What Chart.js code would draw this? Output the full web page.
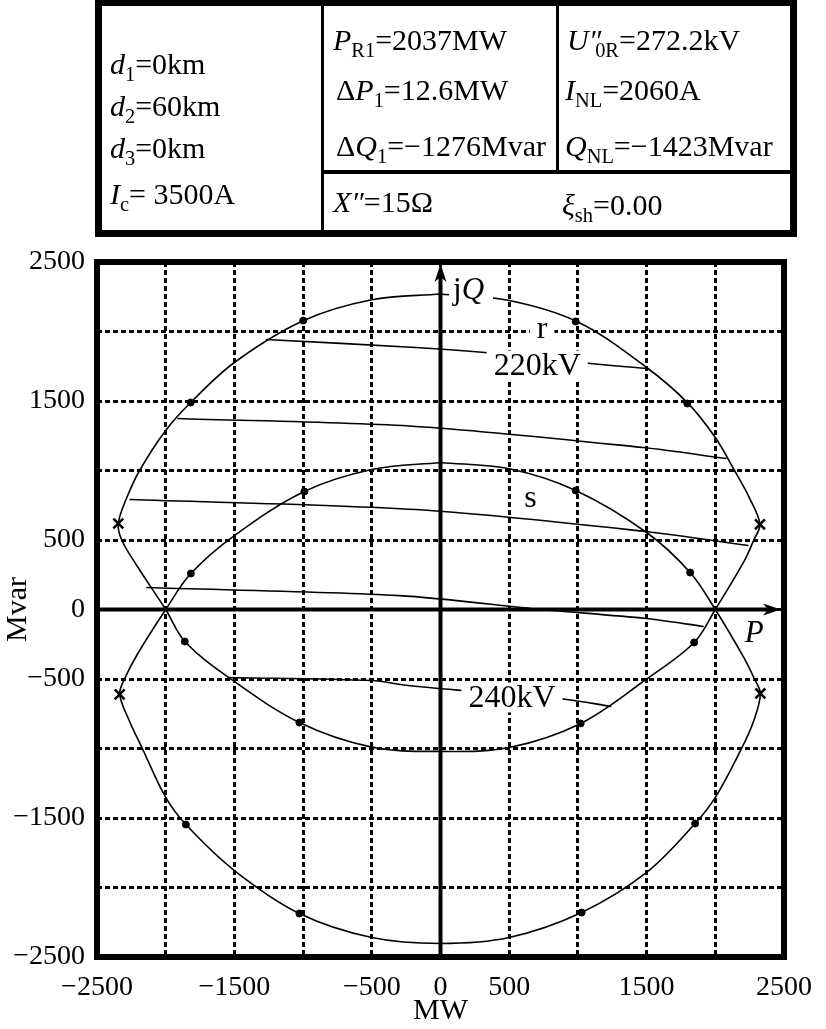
<!DOCTYPE html>
<html>
<head>
<meta charset="UTF-8">
<title>P-Q circle diagram</title>
<script src="https://cdn.jsdelivr.net/npm/chart.js"></script>
<style>
  body { margin: 0; background: #fff; }
  #wrap { position: relative; width: 826px; height: 1029px; overflow: hidden; }
  #chart { position: absolute; left: 0; top: 0; }
  .box { position: absolute; background: #000; }
  .t { position: absolute; font-family: "Liberation Serif", "DejaVu Serif", serif; font-size: 30px; line-height: 34px; white-space: nowrap; color: #000; }
  .t sub { font-size: 0.68em; vertical-align: -0.32em; line-height: 0; font-style: normal; }
</style>
</head>
<body>
<div id="wrap">
  <canvas id="chart" width="826" height="1029"></canvas>

  <!-- table frame -->
  <div class="box" style="left:95px;top:0;width:702px;height:6px"></div>
  <div class="box" style="left:95px;top:230px;width:702px;height:7px"></div>
  <div class="box" style="left:95px;top:0;width:7px;height:237px"></div>
  <div class="box" style="left:790px;top:0;width:7px;height:237px"></div>
  <div class="box" style="left:321px;top:0;width:3px;height:237px"></div>
  <div class="box" style="left:556px;top:0;width:3px;height:173px"></div>
  <div class="box" style="left:321px;top:170px;width:470px;height:4px"></div>

  <div class="t" style="left:110px;top:47px"><i>d</i><sub>1</sub>=0km</div>
  <div class="t" style="left:110px;top:89px"><i>d</i><sub>2</sub>=60km</div>
  <div class="t" style="left:110px;top:131px"><i>d</i><sub>3</sub>=0km</div>
  <div class="t" style="left:110px;top:177px"><i>I</i><sub>c</sub>= 3500A</div>

  <div class="t" style="left:333px;top:23px"><i>P</i><sub>R1</sub>=2037MW</div>
  <div class="t" style="left:336px;top:73px">Δ<i>P</i><sub>1</sub>=12.6MW</div>
  <div class="t" style="left:336px;top:129px">Δ<i>Q</i><sub>1</sub>=−1276Mvar</div>
  <div class="t" style="left:333px;top:185px"><i>X</i><i>″</i>=15Ω</div>

  <div class="t" style="left:567px;top:23px"><i>U</i><i>″</i><sub style="margin-left:-6px">0R</sub>=272.2kV</div>
  <div class="t" style="left:565px;top:73px"><i>I</i><sub>NL</sub>=2060A</div>
  <div class="t" style="left:565px;top:129px"><i>Q</i><sub>NL</sub>=−1423Mvar</div>
  <div class="t" style="left:562px;top:188px"><i>ξ</i><sub>sh</sub>=0.00</div>
</div>

<script>
// tick values that carry a label
const xTickLabels = [-2500, -1500, -500, 0, 500, 1500, 2500];
const yTickLabels = [-2500, -1500, -500, 0, 500, 1500, 2500];

// curve r (closed loop), MW / Mvar
const rP = [0, 500, 1000, 1500, 1800, 2000, 2140, 2250, 2325, 2280, 2213, 2000, 1846, 1500, 1020, 500, 0,
            -500, -1027, -1540, -1861, -2000, -2200, -2320, -2345, -2285, -2190, -2000, -1818, -1500, -1000, -500, 0];
const rQ = [2270, 2223, 2068, 1741, 1485, 1237, 1000, 800, 613, 500, 353, 0, -237, -500, -820, -993, -1021,
            -990, -813, -490, -230, 0, 300, 500, 619, 800, 1000, 1288, 1489, 1777, 2077, 2228, 2270];

// curve s (closed loop)
const sP = [0, 500, 984, 1500, 1817, 2000, 2210, 2285, 2328, 2280, 2191, 2000, 1853, 1500, 1027, 500, 0,
            -500, -1027, -1500, -1853, -2000, -2170, -2265, -2335, -2300, -2205, -2000, -1817, -1500, -991, -500, 0];
const sQ = [1058, 1012, 856, 554, 266, 0, -350, -500, -604, -800, -1000, -1352, -1540, -1892, -2180, -2360, -2403,
            -2360, -2187, -1878, -1547, -1352, -1000, -800, -611, -500, -320, 0, 259, 532, 849, 1007, 1058];

// constant voltage lines
const v220P = [-1271, -180, 323, 1092, 1509];
const v220Q = [1942, 1885, 1849, 1770, 1734];
const v225P = [-1915, -180, 1473, 2083];
const v225Q = [1374, 1317, 1165, 1086];
const v230P = [-2263, -180, 1494, 2241];
const v230Q = [791, 719, 561, 460];
const v235P = [-2142, -300, 733, 1494, 1916];
const v235Q = [158, 100, 0, -65, -122];
const v240P = [-1544, -500, -250, 158, 920, 1243];
const v240Q = [-489, -511, -545, -583, -647, -698];

// marked points
const dotP = [-999, 984, -1818, 1796, -1861, 1846, -1027, 1020, -991, 984, -1817, 1817, -1853, 1853, -1027, 1027];
const dotQ = [2079, 2072, 1489, 1482, -230, -237, -813, -820, 849, 856, 259, 266, -1547, -1540, -2187, -2180];
const crossP = [-2345, 2325, -2335, 2328];
const crossQ = [619, 613, -611, -604];

// annotations
const noteText = ['r', '220kV', 's', '240kV'];
const noteP = [740, 704, 654, 520];
const noteQ = [2022, 1755, 806, -633];

const pts = (p, q) => p.map((v, i) => ({ x: v, y: q[i] }));
const fmt = v => (v < 0 ? '\u2212' + Math.abs(v) : String(v));
const SERIF = '"Liberation Serif", "DejaVu Serif", serif';

function lineSet(p, q, tension) {
  return {
    data: pts(p, q), showLine: true, borderColor: '#000', borderWidth: 1.6,
    pointRadius: 0, tension: tension, fill: false
  };
}

const overlay = {
  id: 'overlay',
  beforeDatasetsDraw(chart) {
    const { ctx, chartArea: a, scales: { x, y } } = chart;
    const x0 = x.getPixelForValue(0), y0 = y.getPixelForValue(0);
    ctx.save();
    ctx.strokeStyle = '#000'; ctx.fillStyle = '#000'; ctx.lineWidth = 4;
    ctx.beginPath(); ctx.moveTo(x0, a.bottom); ctx.lineTo(x0, a.top + 10); ctx.stroke();
    ctx.beginPath(); ctx.moveTo(x0, a.top + 2); ctx.lineTo(x0 - 6, a.top + 20); ctx.lineTo(x0, a.top + 15); ctx.lineTo(x0 + 6, a.top + 20); ctx.closePath(); ctx.fill();
    ctx.beginPath(); ctx.moveTo(a.left, y0); ctx.lineTo(a.right - 10, y0); ctx.stroke();
    ctx.beginPath(); ctx.moveTo(a.right - 3, y0); ctx.lineTo(a.right - 21, y0 - 6); ctx.lineTo(a.right - 16, y0); ctx.lineTo(a.right - 21, y0 + 6); ctx.closePath(); ctx.fill();
    ctx.restore();
  },
  afterDatasetsDraw(chart) {
    const { ctx, scales: { x, y } } = chart;
    ctx.save();
    ctx.textAlign = 'center'; ctx.textBaseline = 'middle';
    noteText.forEach((txt, i) => {
      const px = x.getPixelForValue(noteP[i]), py = y.getPixelForValue(noteQ[i]);
      ctx.font = '32px ' + SERIF;
      const w = ctx.measureText(txt).width;
      if (txt !== 's') {
        ctx.fillStyle = '#fff';
        ctx.fillRect(px - w / 2 - 7, py - 15, w + 14, 30);
      }
      ctx.fillStyle = '#000';
      ctx.fillText(txt, px, py + 1);
    });
    // jQ near the vertical axis
    const jx = x.getPixelForValue(208), jy = y.getPixelForValue(2302);
    ctx.fillStyle = '#fff'; ctx.fillRect(jx - 20, jy - 14, 44, 28);
    ctx.fillStyle = '#000'; ctx.textAlign = 'left';
    ctx.font = '31px ' + SERIF;
    const jw = ctx.measureText('j').width;
    ctx.fillText('j', jx - 16, jy + 1);
    ctx.font = 'italic 31px ' + SERIF;
    ctx.fillText('Q', jx - 16 + jw, jy + 1);
    // P at the horizontal axis
    ctx.textAlign = 'center';
    ctx.fillText('P', x.getPixelForValue(2284), y.getPixelForValue(-173));
    ctx.restore();
  },
  afterDraw(chart) {
    const { ctx, chartArea: a } = chart;
    ctx.save();
    ctx.strokeStyle = '#000'; ctx.lineWidth = 6;
    ctx.strokeRect(a.left, a.top, a.right - a.left, a.bottom - a.top);
    ctx.restore();
  }
};

const axisCommon = {
  type: 'linear', min: -2500, max: 2500,
  grid: { color: '#000', lineWidth: 3, drawTicks: false },
  border: { display: false, dash: [5, 3] },
  title: { display: true, color: '#000', font: { family: SERIF, size: 30 }, padding: 0 }
};

new Chart(document.getElementById('chart'), {
  type: 'scatter',
  data: {
    datasets: [
      lineSet(rP, rQ, 0.35),
      lineSet(sP, sQ, 0.35),
      lineSet(v220P, v220Q, 0.3),
      lineSet(v225P, v225Q, 0.3),
      lineSet(v230P, v230Q, 0.3),
      lineSet(v235P, v235Q, 0.3),
      lineSet(v240P, v240Q, 0.3),
      { data: pts(dotP, dotQ), pointRadius: 3.5, pointBackgroundColor: '#000', pointBorderColor: '#000', showLine: false },
      { data: pts(crossP, crossQ), pointStyle: 'crossRot', pointRadius: 7, pointBorderWidth: 2.5, pointBorderColor: '#000', showLine: false }
    ]
  },
  options: {
    responsive: false, animation: false, devicePixelRatio: 1,
    layout: { padding: { top: 262, right: 33, left: 0, bottom: 0 } },
    plugins: { legend: { display: false }, tooltip: { enabled: false } },
    scales: {
      x: Object.assign({}, axisCommon, {
        title: Object.assign({}, axisCommon.title, { text: 'MW' }),
        ticks: {
          stepSize: 500, autoSkip: false, maxRotation: 0, padding: 14, color: '#000',
          font: { family: SERIF, size: 28 },
          callback: v => (xTickLabels.includes(v) ? fmt(v) : '')
        },
        afterFit: s => { s.height = 72; }
      }),
      y: Object.assign({}, axisCommon, {
        title: Object.assign({}, axisCommon.title, { text: 'Mvar' }),
        ticks: {
          stepSize: 500, autoSkip: false, padding: 12, color: '#000',
          font: { family: SERIF, size: 28 },
          callback: v => (yTickLabels.includes(v) ? fmt(v) : '')
        },
        afterFit: s => { s.width = 97; }
      })
    }
  },
  plugins: [overlay]
});
</script>
</body>
</html>
